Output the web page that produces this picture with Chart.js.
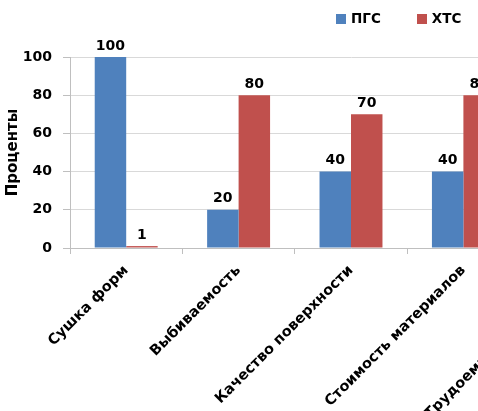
<!DOCTYPE html>
<html>
<head>
<meta charset="utf-8">
<script src="https://cdn.jsdelivr.net/npm/chart.js@4/dist/chart.umd.min.js"></script>
<style>
  html, body { margin: 0; padding: 0; background: #fff; overflow: hidden; }
  #wrap { position: relative; width: 478px; height: 411px; overflow: hidden; }
  #legend { position: absolute; top: 10px; left: 336px; font: bold 13.5px "DejaVu Sans", sans-serif; color: #000; white-space: nowrap; line-height: 16px; }
  #legend span.item { display: inline-block; margin-right: 36px; }
  #legend i { display: inline-block; width: 10px; height: 10px; margin-right: 5px; vertical-align: -1px; }
</style>
</head>
<body>
<div id="wrap">
  <canvas id="myChart" width="640" height="411"></canvas>
  <div id="legend"></div>
</div>
<script>
const categories = ['Сушка форм', 'Выбиваемость', 'Качество поверхности', 'Стоимость материалов', 'Трудоемкость формовки'];
const pgsValues = [100, 20, 40, 40, 80];
const xtsValues = [1, 80, 70, 80, 40];
const yTicks = [0, 20, 40, 60, 80, 100];

const seriesNames = ['ПГС', 'ХТС'];
const seriesColors = ['#4F81BD', '#C0504D'];

// numbers above the bars
const barLabels = {
  id: 'barLabels',
  afterDatasetsDraw(chart) {
    const ctx = chart.ctx;
    ctx.save();
    ctx.font = 'bold 14px "DejaVu Sans"';
    ctx.fillStyle = '#000';
    ctx.textAlign = 'center';
    ctx.textBaseline = 'bottom';
    chart.data.datasets.forEach((ds, i) => {
      chart.getDatasetMeta(i).data.forEach((bar, j) => {
        ctx.fillText(ds.data[j], bar.x, bar.y - 4);
      });
    });
    ctx.restore();
  }
};

const ctx = document.getElementById('myChart').getContext('2d');
const myChart = new Chart(ctx, {
  type: 'bar',
  data: {
    labels: categories,
    datasets: [
      { label: seriesNames[0], data: pgsValues, backgroundColor: seriesColors[0] },
      { label: seriesNames[1], data: xtsValues, backgroundColor: seriesColors[1] }
    ]
  },
  options: {
    responsive: false,
    animation: false,
    categoryPercentage: 0.56,
    barPercentage: 1.0,
    layout: { padding: { top: 57, left: 0, right: 8, bottom: 0 } },
    scales: {
      y: {
        min: 0,
        max: 100,
        afterBuildTicks: (scale) => { scale.ticks = yTicks.map(v => ({ value: v })); },
        afterFit: (scale) => { scale.width = 70; },
        title: {
          display: true,
          text: 'Проценты',
          font: { family: 'DejaVu Sans', size: 15, weight: 'bold' },
          color: '#000',
          padding: { top: 4, bottom: 0 }
        },
        ticks: {
          font: { family: 'DejaVu Sans', size: 14, weight: 'bold' },
          color: '#000',
          padding: 11
        },
        grid: { color: '#d9d9d9', tickColor: '#bfbfbf', tickLength: 7 },
        border: { color: '#bfbfbf' }
      },
      x: {
        afterFit: (scale) => { scale.height = 163; },
        ticks: {
          font: { family: 'DejaVu Sans', size: 14.5, weight: 'bold' },
          color: '#000',
          minRotation: 45,
          maxRotation: 45,
          autoSkip: false,
          padding: 8
        },
        grid: { drawOnChartArea: false, color: '#bfbfbf', tickLength: 6 },
        border: { color: '#bfbfbf' }
      }
    },
    plugins: {
      legend: { display: false },
      tooltip: { enabled: false }
    }
  },
  plugins: [barLabels]
});

document.getElementById('legend').innerHTML = seriesNames.map((n, i) =>
  '<span class="item"><i style="background:' + seriesColors[i] + '"></i>' + n + '</span>').join('');
</script>
</body>
</html>
